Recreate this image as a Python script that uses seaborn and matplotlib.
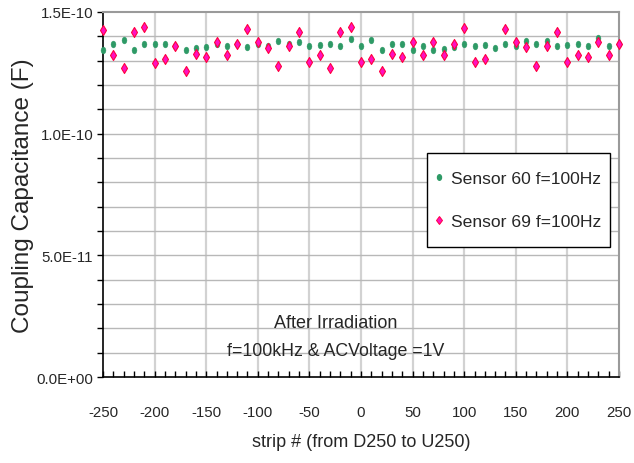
import numpy as np
import pandas as pd
import matplotlib
matplotlib.use("Agg")
import matplotlib.pyplot as plt
from matplotlib.path import Path
from matplotlib.lines import Line2D
from matplotlib.patches import Rectangle
from matplotlib.ticker import MultipleLocator, FixedLocator, FixedFormatter
import seaborn as sns

# Strip numbers (D250 ... U250)
strips = [-250, -240, -230, -220, -210, -200, -190, -180, -170, -160,
          -150, -140, -130, -120, -110, -100, -90, -80, -70, -60,
          -50, -40, -30, -20, -10, 0, 10, 20, 30, 40,
          50, 60, 70, 80, 90, 100, 110, 120, 130, 140,
          150, 160, 170, 180, 190, 200, 210, 220, 230, 240, 250]

# Coupling capacitance in units of 1E-11 F
sensor60 = [13.45, 13.67, 13.85, 13.45, 13.69, 13.69, 13.69, 13.59, 13.45, 13.51,
            13.55, 13.69, 13.59, 13.67, 13.55, 13.69, 13.60, 13.80, 13.69, 13.76,
            13.59, 13.65, 13.69, 13.61, 13.90, 13.59, 13.84, 13.44, 13.69, 13.69,
            13.45, 13.59, 13.45, 13.49, 13.55, 13.69, 13.59, 13.65, 13.54, 13.69,
            13.59, 13.81, 13.69, 13.79, 13.59, 13.65, 13.69, 13.61, 13.92, 13.61, 13.69]
sensor69 = [14.27, 13.22, 12.68, 14.16, 14.37, 12.92, 13.08, 13.61, 12.56, 13.28,
            13.15, 13.76, 13.22, 13.67, 14.29, 13.76, 13.53, 12.78, 13.61, 14.16,
            12.95, 13.22, 12.68, 14.16, 14.37, 12.94, 13.08, 12.56, 13.29, 13.15,
            13.76, 13.23, 13.76, 13.23, 13.69, 14.36, 12.93, 13.08, np.nan, 14.29,
            13.76, 13.55, 12.80, 13.61, 14.16, 12.96, 13.23, 13.15, 13.76, 13.23, 13.69]

series_names = ["Sensor 60 f=100Hz", "Sensor 69 f=100Hz"]
y_ticks = [0.0, 5e-11, 1e-10, 1.5e-10]
y_tick_labels = ["0.0E+00", "5.0E-11", "1.0E-10", "1.5E-10"]
x_ticks = [-250, -200, -150, -100, -50, 0, 50, 100, 150, 200, 250]

df = pd.DataFrame({
    "strip": strips * 2,
    "C": [v * 1e-11 for v in sensor60] + [v * 1e-11 for v in sensor69],
    "sensor": [series_names[0]] * len(strips) + [series_names[1]] * len(strips),
})

sns.set_theme(style="white")
plt.rcParams["font.family"] = ["Liberation Sans", "DejaVu Sans"]
plt.rcParams["axes.unicode_minus"] = False

fig = plt.figure(figsize=(6.34, 4.64), dpi=100)
ax = fig.add_axes([103 / 634, 1 - 378 / 464, 516 / 634, 365 / 464])

# tall elliptical marker for the green series
circ = Path.unit_circle()
ellipse = Path(circ.vertices * np.array([0.72, 1.0]), circ.codes)

green = "#2e9a66"
pink_face = "#ff10c0"
pink_edge = "#ff0040"

sns.scatterplot(data=df[df.sensor == series_names[0]], x="strip", y="C",
                marker=ellipse, s=24, color=green, edgecolor=green,
                linewidth=0.3, ax=ax, legend=False, clip_on=False, zorder=3)
sns.scatterplot(data=df[df.sensor == series_names[1]], x="strip", y="C",
                marker="d", s=26, color=pink_face, edgecolor=pink_edge,
                linewidth=0.8, ax=ax, legend=False, clip_on=False, zorder=4)

ax.set_xlim(-250, 250)
ax.set_ylim(0, 1.5e-10)

ax.xaxis.set_major_locator(FixedLocator(x_ticks))
ax.xaxis.set_minor_locator(MultipleLocator(10))
ax.yaxis.set_major_locator(FixedLocator(y_ticks))
ax.yaxis.set_major_formatter(FixedFormatter(y_tick_labels))
ax.yaxis.set_minor_locator(MultipleLocator(1e-11))

ax.grid(False)
for v in np.arange(-200, 250, 50):
    ax.axvline(v, color="#d2d2d2", lw=1.6, zorder=0)
for k in range(1, 15):
    ax.axhline(k * 1e-11, color="#b8b8b8", lw=1.0, zorder=0)

ax.tick_params(axis="x", which="both", direction="in", length=4, width=1,
               color="black", bottom=True, labelsize=10.8, pad=20)
ax.tick_params(axis="y", which="both", direction="out", length=4, width=1,
               color="black", left=True, labelsize=10.8, pad=3)

for side in ["left", "bottom"]:
    ax.spines[side].set_color("black")
    ax.spines[side].set_linewidth(1.2)
for side in ["top", "right"]:
    ax.spines[side].set_color("#9a9a9a")
    ax.spines[side].set_linewidth(1.5)

ax.set_xlabel("strip # (from D250 to U250)", fontsize=13, labelpad=10)
ax.set_ylabel("Coupling Capacitance (F)", fontsize=17.5, labelpad=1.5)

ax.text(-25, 2.22e-11, "After Irradiation", ha="center", va="center", fontsize=13)
ax.text(-25, 1.07e-11, "f=100kHz & ACVoltage =1V", ha="center", va="center", fontsize=12.8)

# legend box
to_axes = lambda px, py: ((px - 103) / 516, (378 - py) / 365)
x0, y0 = to_axes(427, 248)
x1, y1 = to_axes(610, 154)
ax.add_patch(Rectangle((x0, y0), x1 - x0, y1 - y0, transform=ax.transAxes,
                       facecolor="white", edgecolor="black", lw=1.0, zorder=5))

handles = [
    Line2D([], [], linestyle="none", marker=ellipse, markersize=4,
           markerfacecolor=green, markeredgecolor=green),
    Line2D([], [], linestyle="none", marker="d", markersize=4.5,
           markerfacecolor=pink_face, markeredgecolor=pink_edge, markeredgewidth=0.7),
]
lx, ly = to_axes(433.5, 201)
leg = ax.legend(handles, series_names, loc="center left",
                bbox_to_anchor=(lx, ly), fontsize=12.6, frameon=False,
                handlelength=0.6, handletextpad=0.4, labelspacing=1.55,
                borderpad=0, borderaxespad=0)
leg.set_zorder(6)

fig.savefig("out.png", dpi=100)
